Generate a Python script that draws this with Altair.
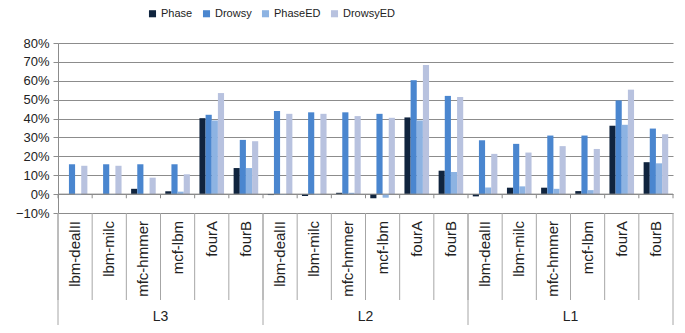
import altair as alt
import pandas as pd

groups = ["L3", "L2", "L1"]
categories = ["lbm-dealII", "lbm-milc", "mfc-hmmer", "mcf-lbm", "fourA", "fourB"]
series = ["Phase", "Drowsy", "PhaseED", "DrowsyED"]
colors = ["#10243e", "#4a86cf", "#8db3e2", "#b8c2df"]

# values in percent, per group, per category, per series
phase = {
    "L3": [0.0, 0.0, 2.8, 1.5, 40.2, 13.8],
    "L2": [-0.5, -1.0, 0.7, -2.2, 40.6, 12.4],
    "L1": [-1.2, 3.4, 3.4, 1.6, 36.2, 16.9],
}
drowsy = {
    "L3": [15.8, 15.8, 15.8, 15.8, 42.0, 28.7],
    "L2": [44.0, 43.3, 43.3, 42.5, 60.3, 52.0],
    "L1": [28.5, 26.6, 31.0, 31.0, 49.6, 34.7],
}
phase_ed = {
    "L3": [-0.5, -0.3, 0.0, 1.3, 39.0, 13.8],
    "L2": [-0.3, -0.3, 0.7, -1.9, 39.0, 11.7],
    "L1": [3.5, 4.1, 2.8, 2.1, 36.7, 16.3],
}
drowsy_ed = {
    "L3": [15.0, 15.0, 8.7, 10.5, 53.5, 28.0],
    "L2": [42.5, 42.5, 41.3, 40.4, 68.3, 51.4],
    "L1": [21.3, 22.0, 25.4, 23.9, 55.3, 31.7],
}
tables = dict(zip(series, [phase, drowsy, phase_ed, drowsy_ed]))

rows = []
for g in groups:
    for i, c in enumerate(categories):
        for s in series:
            rows.append({"group": g, "cat": c, "key": g + "|" + c,
                         "series": s, "value": tables[s][g][i] / 100.0})
df = pd.DataFrame(rows)
keys = [g + "|" + c for g in groups for c in categories]
cat_df = pd.DataFrame({"key": keys, "cat": [c for g in groups for c in categories],
                       "last": [k == keys[-1] for k in keys]})
grp_df = pd.DataFrame({"group": groups, "last": [g == groups[-1] for g in groups]})

W, H = 615, 170
FONT = "Liberation Sans"
LINE = "#a6a6a6"

yscale = alt.Scale(domain=[-0.1, 0.8])
yaxis = alt.Axis(format=".0%", values=[-0.1, 0, 0.1, 0.2, 0.3, 0.4, 0.5, 0.6, 0.7, 0.8],
                 title=None, grid=True, gridColor="#8c8c8c", domainColor="#8c8c8c",
                 tickColor="#8c8c8c", tickSize=5, labelFontSize=13, labelFont=FONT,
                 labelColor="#222222", labelPadding=4)

bars = alt.Chart(df).mark_bar().encode(
    x=alt.X("key:N", scale=alt.Scale(domain=keys, paddingInner=0.28, paddingOuter=0.14), axis=None),
    xOffset=alt.XOffset("series:N", scale=alt.Scale(domain=series, paddingInner=0, paddingOuter=0)),
    y=alt.Y("value:Q", scale=yscale, axis=yaxis),
    color=alt.Color("series:N", scale=alt.Scale(domain=series, range=colors),
                    legend=alt.Legend(orient="none", legendX=89, legendY=-35, direction="horizontal",
                                      title=None, symbolType="square", symbolSize=50,
                                      symbolStrokeWidth=0, labelFontSize=11, labelFont=FONT,
                                      labelFontWeight="normal",
                                      labelColor="#222222", columnPadding=8, labelOffset=3)),
)

xband = alt.Scale(domain=keys, paddingInner=0, paddingOuter=0)
zero_line = alt.Chart(cat_df).mark_rule(color="#8c8c8c").encode(
    y=alt.Y(datum=0, scale=yscale, axis=yaxis)
).transform_filter("datum.last")

zero_ticks = alt.Chart(cat_df).mark_rule(color="#8c8c8c").encode(
    x=alt.X("key:N", scale=xband, axis=None, bandPosition=0),
    y=alt.Y(datum=0, scale=yscale, axis=yaxis),
    y2=alt.Y2(datum=-0.022),
)
zero_tick_end = alt.Chart(cat_df).mark_rule(color="#8c8c8c").encode(
    x=alt.X("key:N", scale=xband, axis=None, bandPosition=1),
    y=alt.Y(datum=0, scale=yscale, axis=yaxis),
    y2=alt.Y2(datum=-0.022),
).transform_filter("datum.last")

cat_sep = alt.Chart(cat_df).mark_rule(color=LINE).encode(
    x=alt.X("key:N", scale=xband, axis=None, bandPosition=0),
    y=alt.Y(datum=-0.1, scale=yscale, axis=yaxis),
    y2=alt.value(H + 87),
)
cat_labels = alt.Chart(cat_df).mark_text(
    angle=270, align="right", baseline="middle", fontSize=15, font=FONT, color="#222222"
).encode(
    x=alt.X("key:N", scale=xband, axis=None),
    y=alt.value(H + 8),
    text="cat:N",
)

gband = alt.Scale(domain=groups, paddingInner=0, paddingOuter=0)
grp_sep = alt.Chart(grp_df).mark_rule(color=LINE).encode(
    x=alt.X("group:N", scale=gband, axis=None, bandPosition=0),
    y=alt.Y(datum=-0.1, scale=yscale, axis=yaxis),
    y2=alt.value(H + 114),
)
grp_sep_end = alt.Chart(grp_df).mark_rule(color=LINE).encode(
    x=alt.X("group:N", scale=gband, axis=None, bandPosition=1),
    y=alt.Y(datum=-0.1, scale=yscale, axis=yaxis),
    y2=alt.value(H + 114),
).transform_filter("datum.last")
grp_labels = alt.Chart(grp_df).mark_text(
    align="center", baseline="middle", fontSize=14, font=FONT, color="#222222"
).encode(
    x=alt.X("group:N", scale=gband, axis=None),
    y=alt.value(H + 104),
    text="group:N",
)

chart = alt.layer(
    bars, zero_line, zero_ticks, zero_tick_end, cat_sep, cat_labels,
    grp_sep, grp_sep_end, grp_labels
).resolve_scale(x="independent").properties(
    width=W, height=H,
    autosize=alt.AutoSizeParams(type="none"),
    padding={"left": 50, "top": 35, "right": 4, "bottom": 112},
).configure_view(stroke=None).configure_axis(gridWidth=1)

chart.save("out.html", embed_options={"renderer": "svg", "actions": False})
